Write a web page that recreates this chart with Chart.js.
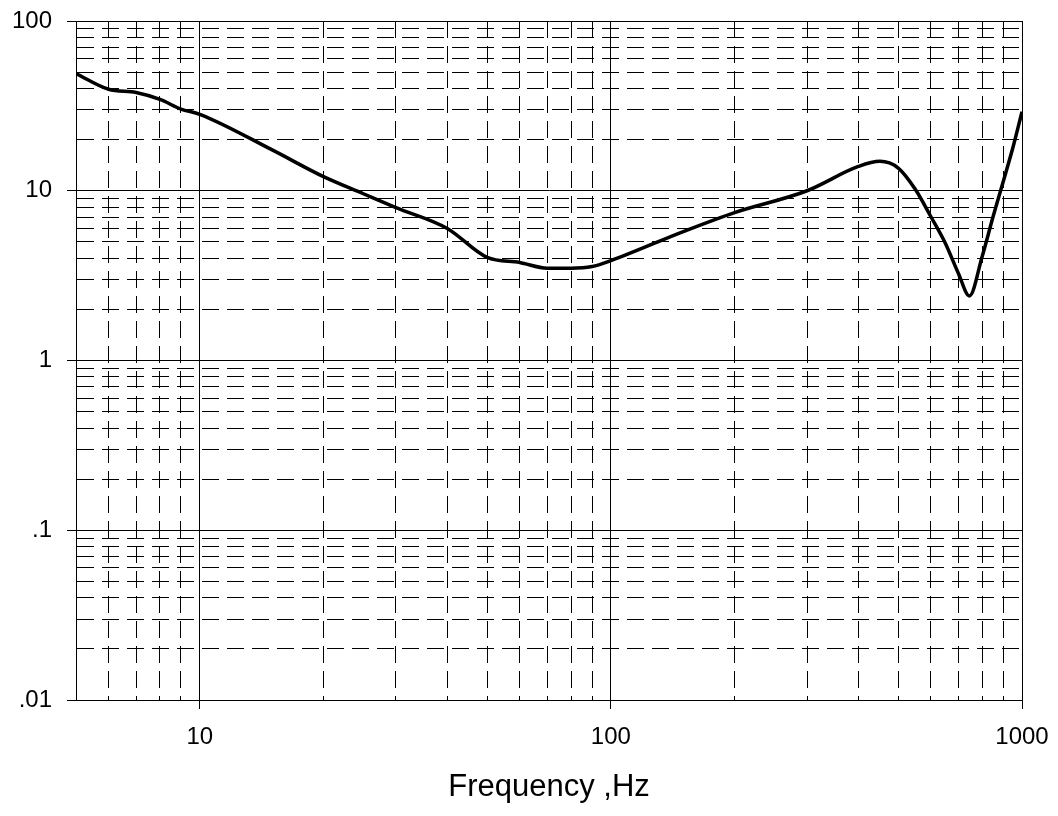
<!DOCTYPE html>
<html>
<head>
<meta charset="utf-8">
<script src="https://cdn.jsdelivr.net/npm/chart.js@4"></script>
<style>
  html, body { margin: 0; padding: 0; background: #fff; }
  #wrap { width: 1058px; height: 816px; }
</style>
</head>
<body>
<div id="wrap"><canvas id="freqChart" width="1058" height="816"></canvas></div>
<script>
// values (log-log)
const freqHz = [5, 6, 7, 8, 9, 10, 15, 20, 25, 30, 40, 50, 60, 70, 80, 90, 100, 150, 200, 300, 400, 451, 500, 550, 600, 650, 700, 745, 800, 850, 900, 950, 1000];
const response = [49, 39.6, 37.9, 34.5, 30.3, 28.2, 17.4, 12.1, 9.6, 7.96, 6.0, 4.05, 3.78, 3.5, 3.5, 3.58, 3.88, 5.75, 7.44, 10.0, 13.9, 14.9, 13.6, 10.2, 7.05, 4.94, 3.27, 2.4, 4.1, 7.0, 11.3, 17.9, 29.2];

const xMin = 5, xMax = 1000;
const yMin = 0.01, yMax = 100;
const xTickLabels = { 10: '10', 100: '100', 1000: '1000' };
const yTickLabels = { 0.01: '.01', 0.1: '.1', 1: '1', 10: '10', 100: '100' };

const FONT = "'Liberation Sans', Arial, sans-serif";

// every 1..9 x 10^n position between min and max
function logTicks(min, max) {
  let out = [];
  for (let e = Math.floor(Math.log10(min)); e <= Math.ceil(Math.log10(max)); e++) {
    for (let m = 1; m <= 9; m++) {
      let v = parseFloat((m * Math.pow(10, e)).toPrecision(6));
      if (v >= min - 1e-12 && v <= max + 1e-12) out.push({ value: v, major: m === 1 });
    }
  }
  return out;
}

const isMajor = (ctx) => ctx.tick && ctx.tick.major;

const ctx = document.getElementById('freqChart');
new Chart(ctx, {
  type: 'line',
  data: {
    datasets: [{
      data: freqHz.map((f, i) => ({ x: f, y: response[i] })),
      borderColor: '#000',
      borderWidth: 3.5,
      pointRadius: 0,
      fill: false,
      cubicInterpolationMode: 'monotone'
    }]
  },
  options: {
    responsive: false,
    animation: false,
    devicePixelRatio: 1,
    layout: { padding: { top: 21, right: 36, left: 0, bottom: 0 } },
    plugins: { legend: { display: false }, tooltip: { enabled: false } },
    scales: {
      x: {
        type: 'logarithmic',
        min: xMin,
        max: xMax,
        afterBuildTicks: (scale) => { scale.ticks = logTicks(xMin, xMax); },
        afterFit: (scale) => {
          scale.height = 116;
          scale.paddingLeft = 0;
          scale.paddingRight = 0;
        },
        ticks: {
          autoSkip: false,
          maxRotation: 0,
          padding: 14,
          color: '#000',
          font: { family: FONT, size: 24 },
          callback: (v) => xTickLabels[v] || ''
        },
        grid: {
          color: '#000',
          lineWidth: 1,
          tickLength: 9,
          tickColor: (c) => isMajor(c) ? '#000' : 'rgba(0,0,0,0)'
        },
        border: {
          display: true,
          color: '#000',
          width: 1,
          dash: (c) => (c.tick && !c.tick.major) ? [17, 8] : []
        },
        title: {
          display: true,
          text: 'Frequency ,Hz',
          color: '#000',
          font: { family: FONT, size: 31 },
          padding: { top: 0, bottom: 10 }
        }
      },
      y: {
        type: 'logarithmic',
        min: yMin,
        max: yMax,
        afterBuildTicks: (scale) => { scale.ticks = logTicks(yMin, yMax); },
        afterFit: (scale) => {
          scale.width = 76;
          scale.paddingTop = 0;
          scale.paddingBottom = 0;
        },
        ticks: {
          autoSkip: false,
          padding: 15,
          color: '#000',
          font: { family: FONT, size: 24 },
          callback: (v) => yTickLabels[v] || ''
        },
        grid: {
          color: '#000',
          lineWidth: 1,
          tickLength: 9,
          tickColor: (c) => isMajor(c) ? '#000' : 'rgba(0,0,0,0)'
        },
        border: {
          display: true,
          color: '#000',
          width: 1,
          dash: (c) => (c.tick && !c.tick.major) ? [17, 8] : []
        }
      }
    }
  }
});
</script>
</body>
</html>
